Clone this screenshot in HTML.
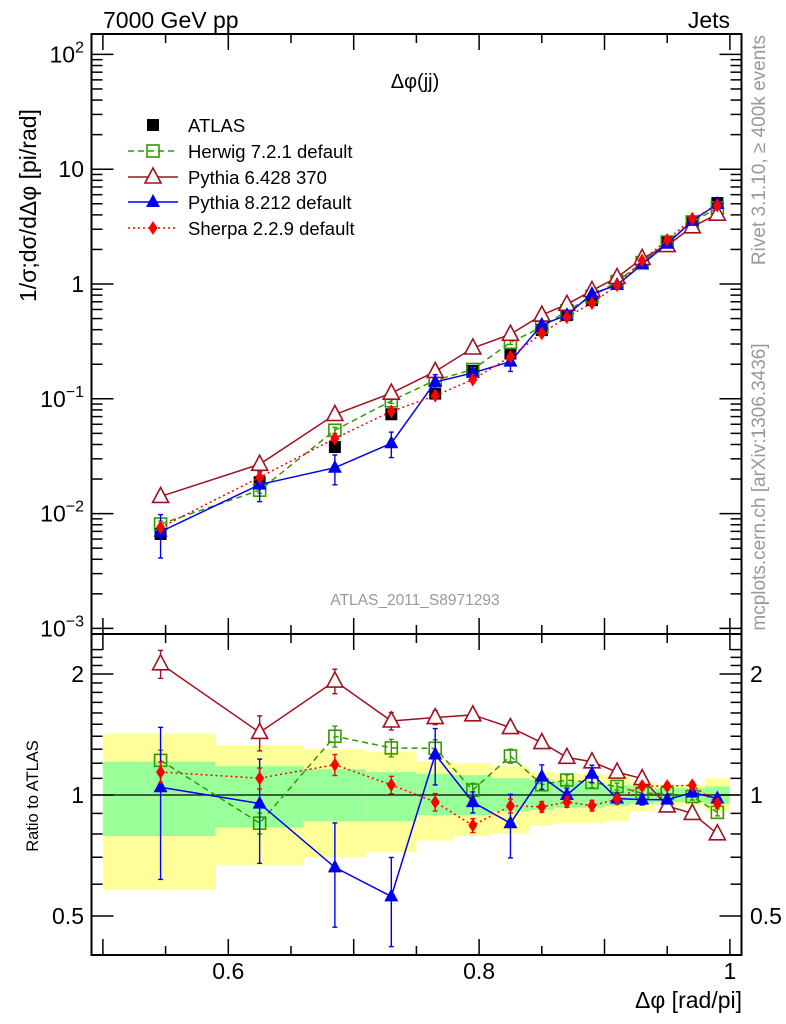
<!DOCTYPE html>
<html><head><meta charset="utf-8"><style>
body{margin:0;background:#fff}
svg{display:block;font-family:"Liberation Sans","DejaVu Sans",sans-serif}
</style></head><body>
<svg id="c" width="786" height="1024" viewBox="0 0 786 1024">
<g id="bands"></g>
<g id="grid"></g>
<g id="series"></g>
<text x="103" y="28" font-size="23">7000 GeV pp</text>
<text x="730" y="28" font-size="23" text-anchor="end">Jets</text>
<text x="415" y="88" font-size="20" text-anchor="middle">Δφ(jj)</text>
<text x="415" y="605" font-size="15.5" fill="#999" text-anchor="middle">ATLAS_2011_S8971293</text>
<text transform="translate(36,302) rotate(-90)" font-size="23" text-anchor="start">1/σ;dσ/dΔφ [pi/rad]</text>
<text transform="translate(38,796) rotate(-90)" font-size="16.5" text-anchor="middle">Ratio to ATLAS</text>
<text x="742" y="1008" font-size="23" text-anchor="end">Δφ [rad/pi]</text>
<text transform="translate(765,150) rotate(-90)" font-size="19" fill="#999" text-anchor="middle">Rivet 3.1.10, ≥ 400k events</text>
<text transform="translate(765,487) rotate(-90)" font-size="19" fill="#999" text-anchor="middle">mcplots.cern.ch [arXiv:1306.3436]</text>
<g id="legend"></g>
</svg>
<script>
const xs=[0.546,0.625,0.685,0.730,0.765,0.795,0.825,0.850,0.870,0.890,0.910,0.930,0.950,0.970,0.990];
const binEdges=[0.50,0.59,0.66,0.71,0.75,0.78,0.81,0.84,0.86,0.88,0.90,0.92,0.94,0.96,0.98,1.0];
const atlas=[0.00665,0.0188,0.038,0.0733,0.111,0.175,0.248,0.397,0.536,0.725,1.0,1.52,2.30,3.50,5.07];
const herwig=[0.00811,0.0160,0.0532,0.0960,0.145,0.180,0.310,0.421,0.584,0.779,1.05,1.535,2.32,3.47,4.59];
const herwigErr=[0.06,0.06,0.06,0.05,0.05,0.04,0.04,0.03,0.03,0.03,0.02,0.02,0.02,0.02,0.02];
const py6=[0.0141,0.0269,0.0730,0.112,0.173,0.277,0.365,0.536,0.665,0.877,1.14,1.67,2.16,3.15,4.06];
const py6Err=[0.08,0.10,0.07,0.05,0.04,0.03,0.03,0.03,0.02,0.02,0.02,0.02,0.02,0.02,0.02];
const py8=[0.00695,0.0179,0.0251,0.0410,0.140,0.168,0.211,0.441,0.536,0.819,0.98,1.48,2.24,3.55,4.97];
const py8Err=[0.41,0.29,0.29,0.25,0.16,0.06,0.18,0.07,0.04,0.05,0.03,0.03,0.02,0.02,0.02];
const sherpa=[0.00758,0.0207,0.0452,0.0777,0.1066,0.147,0.233,0.371,0.515,0.682,0.977,1.60,2.42,3.70,4.83];
const sherpaErr=[0.06,0.06,0.06,0.05,0.05,0.04,0.04,0.03,0.03,0.03,0.02,0.02,0.02,0.02,0.02];
const statUp=[1.21,1.18,1.16,1.14,1.13,1.12,1.10,1.09,1.08,1.07,1.06,1.05,1.04,1.04,1.05];
const statDn=[0.79,0.83,0.86,0.86,0.89,0.89,0.91,0.92,0.93,0.93,0.94,0.95,0.96,0.96,0.95];
const totUp=[1.42,1.33,1.30,1.28,1.21,1.20,1.18,1.14,1.13,1.13,1.12,1.08,1.06,1.06,1.10];
const totDn=[0.58,0.67,0.70,0.72,0.77,0.79,0.80,0.84,0.85,0.85,0.86,0.91,0.94,0.94,0.91];
const xTicks=[0.6,0.8,1.0];
const xTickLabels=["0.6","0.8","1"];
const yDecades=[-3,-2,-1,0,1,2];
const yDecadeBase=["10","10","10","1","10","10"];
const yDecadeExp=["−3","−2","−1","","","2"];
const rTicks=[0.5,1,2];
const rTickLabels=["0.5","1","2"];

const NS="http://www.w3.org/2000/svg";
const L=91.5,R=741.5,T=34,MB=634,RB=955;
const X=v=>228.3+(v-0.6)*1254;
const Y=v=>284-114.8*Math.log10(v);
const RY=r=>795-121*Math.log2(r);
function mk(tag,attrs,parent){const e=document.createElementNS(NS,tag);for(const k in attrs)e.setAttribute(k,attrs[k]);parent.appendChild(e);return e;}
const G=document.getElementById('grid'),S=document.getElementById('series'),B=document.getElementById('bands'),LG=document.getElementById('legend');

for(let i=0;i<xs.length;i++){
  const x0=X(binEdges[i]),x1=X(binEdges[i+1]);
  const y=mk('rect',{x:x0,y:RY(totUp[i]),width:x1-x0,height:RY(totDn[i])-RY(totUp[i]),fill:'#ffff99'},B);
  
  
  const g=mk('rect',{x:x0,y:RY(statUp[i]),width:x1-x0,height:RY(statDn[i])-RY(statUp[i]),fill:'#99ff99'},B);
  
  
}
mk('rect',{x:L,y:T,width:R-L,height:MB-T,fill:'none',stroke:'#000','stroke-width':2},G);
mk('rect',{x:L,y:MB,width:R-L,height:RB-MB,fill:'none',stroke:'#000','stroke-width':2},G);
mk('line',{x1:L,x2:R,y1:RY(1),y2:RY(1),stroke:'#000','stroke-width':1.3},G);
for(let k=10;k<=20;k++){const v=k*0.05;const x=X(v);if(x<L||x>R)continue;
  const major=(k%2===0);const len=major?16:9;
  for(const [yt,yb] of [[T,MB],[MB,RB]]){
    mk('line',{x1:x,x2:x,y1:yt,y2:yt+len,stroke:'#000','stroke-width':1.5},G);
    mk('line',{x1:x,x2:x,y1:yb,y2:yb-len,stroke:'#000','stroke-width':1.5},G);}
}
xTicks.forEach((v,i)=>{const t=mk('text',{x:X(v),y:979,'font-size':23,'text-anchor':'middle'},G);t.textContent=xTickLabels[i];
  
  });
yDecades.forEach((d,i)=>{const y=Y(Math.pow(10,d));
  mk('line',{x1:L,x2:L+22,y1:y,y2:y,stroke:'#000','stroke-width':1.5},G);
  mk('line',{x1:R,x2:R-22,y1:y,y2:y,stroke:'#000','stroke-width':1.5},G);
  const t=mk('text',{x:84,y:y+8,'font-size':23,'text-anchor':'end'},G);
  
  
  const b=mk('tspan',{},t);b.textContent=yDecadeBase[i];
  if(yDecadeExp[i]){const e=mk('tspan',{'font-size':16,dy:-10},t);e.textContent=yDecadeExp[i];}
  if(d<2)for(let m=2;m<=9;m++){const ym=Y(m*Math.pow(10,d));if(ym<T)continue;
    mk('line',{x1:L,x2:L+11,y1:ym,y2:ym,stroke:'#000','stroke-width':1.5},G);
    mk('line',{x1:R,x2:R-11,y1:ym,y2:ym,stroke:'#000','stroke-width':1.5},G);}
});
for(let r=0.4;r<=2.31;r+=0.1){const y=RY(r);if(y<MB||y>RB)continue;
  const major=[0.5,1,2].some(v=>Math.abs(v-r)<1e-6);const len=major?22:11;
  mk('line',{x1:L,x2:L+len,y1:y,y2:y,stroke:'#000','stroke-width':1.5},G);
  mk('line',{x1:R,x2:R-len,y1:y,y2:y,stroke:'#000','stroke-width':1.5},G);}
rTicks.forEach((r,i)=>{for(const [x,a] of [[84,'end'],[750,'start']]){
  const t=mk('text',{x:x,y:RY(r)+8,'font-size':23,'text-anchor':a},G);t.textContent=rTickLabels[i];
  
  }});

function marker(type,x,y,col,p){
  if(type==='sqf')return mk('rect',{x:x-6,y:y-6,width:12,height:12,fill:'#000'},p);
  if(type==='sqo')return mk('rect',{x:x-6,y:y-6,width:12,height:12,fill:'none',stroke:col,'stroke-width':1.6},p);
  if(type==='tro')return mk('polygon',{points:`${x},${y-9} ${x-8},${y+6} ${x+8},${y+6}`,fill:'#fff',stroke:col,'stroke-width':1.6},p);
  if(type==='trf')return mk('polygon',{points:`${x},${y-8} ${x-7},${y+5} ${x+7},${y+5}`,fill:col},p);
  if(type==='dia')return mk('polygon',{points:`${x},${y-7} ${x-4.5},${y} ${x},${y+7} ${x+4.5},${y}`,fill:col},p);
}
const series=[
 {name:'herwig',vals:herwig,err:herwigErr,col:'#339900',dash:'6,4',m:'sqo',label:'Herwig 7.2.1 default'},
 {name:'pythia6',vals:py6,err:py6Err,col:'#a01020',dash:'',m:'tro',label:'Pythia 6.428 370'},
 {name:'pythia8',vals:py8,err:py8Err,col:'#0000ee',dash:'',m:'trf',label:'Pythia 8.212 default'},
 {name:'sherpa',vals:sherpa,err:sherpaErr,col:'#ff0000',dash:'2,3',m:'dia',label:'Sherpa 2.2.9 default'}];
atlas.forEach((v,i)=>{const e=marker('sqf',X(xs[i]),Y(v),'#000',S);
  
  });
series.forEach(s=>{
  const g=mk('g',{},S);
  
  
  for(const panel of ['main','ratio']){
    const f=panel==='main'?(i=>Y(s.vals[i])):(i=>RY(s.vals[i]/atlas[i]));
    const fe=panel==='main'?((i,k)=>Y(s.vals[i]*(1+k*s.err[i]))):((i,k)=>RY(s.vals[i]*(1+k*s.err[i])/atlas[i]));
    const pts=xs.map((x,i)=>X(x)+','+f(i)).join(' ');
    const pl=mk('polyline',{points:pts,fill:'none',stroke:s.col,'stroke-width':1.5,'stroke-dasharray':s.dash},g);
    
    
    xs.forEach((x,i)=>{const xx=X(x);
      mk('line',{x1:xx,x2:xx,y1:fe(i,1),y2:fe(i,-1),stroke:s.col,'stroke-width':1.4},g);
      mk('line',{x1:xx-2.5,x2:xx+2.5,y1:fe(i,1),y2:fe(i,1),stroke:s.col,'stroke-width':1.4},g);
      mk('line',{x1:xx-2.5,x2:xx+2.5,y1:fe(i,-1),y2:fe(i,-1),stroke:s.col,'stroke-width':1.4},g);
      const m=marker(s.m,xx,f(i),s.col,g);
      
      });
  }
});
const ly=[125,151,177,202,228];
let e=marker('sqf',153,ly[0],'#000',LG);


let t=mk('text',{x:188,y:ly[0]+7,'font-size':18.5},LG);t.textContent='ATLAS';


series.forEach((s,k)=>{const y=ly[k+1];
  mk('line',{x1:128,x2:178,y1:y,y2:y,stroke:s.col,'stroke-width':1.5,'stroke-dasharray':s.dash},LG);
  const m=marker(s.m,153,y,s.col,LG);
  
  
  const tt=mk('text',{x:188,y:y+7,'font-size':18.5},LG);tt.textContent=s.label;
  
  });
</script>
</body></html>
